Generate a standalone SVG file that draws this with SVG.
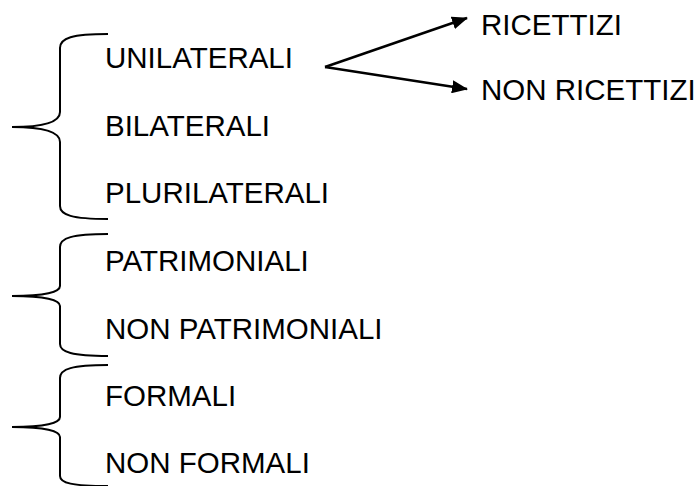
<svg xmlns="http://www.w3.org/2000/svg" width="697" height="486" viewBox="0 0 697 486">
<style>
text{font-family:"Liberation Sans",Arial,sans-serif;font-size:29.5px;fill:#000}
.br{fill:none;stroke:#000;stroke-width:2}
.ar{fill:none;stroke:#000;stroke-width:2.5}
</style>
<defs>
<marker id="ah" markerWidth="16" markerHeight="13" refX="15" refY="6.5" orient="auto" markerUnits="userSpaceOnUse">
<path d="M0,0 L16,6.5 L0,13 Z" fill="#000"/>
</marker>
</defs>
<g id="brace1"><path class="br" d="M108,34 C72,34 60,38 60,48 L60,112 C60,122 45,127 12,127 C45,127 60,132 60,142 L60,206 C60,215 72,219 108,219"/></g>
<g id="brace2"><path class="br" d="M108,234 C72,234 60,238 60,247 L60,286 C60,292 45,296 12,296 C45,296 60,300 60,306 L60,344 C60,352 72,356 108,356"/></g>
<g id="brace3"><path class="br" d="M108,365 C72,365 60,369 60,378 L60,417 C60,423 45,427 12,427 C45,427 60,431 60,437 L60,476 C60,483 72,486 108,486"/></g>
<g id="n-unilaterali"><text x="105" y="68">UNILATERALI</text></g>
<g id="n-bilaterali"><text x="105" y="136">BILATERALI</text></g>
<g id="n-plurilaterali"><text x="105" y="203">PLURILATERALI</text></g>
<g id="n-patrimoniali"><text x="105" y="271">PATRIMONIALI</text></g>
<g id="n-nonpatrimoniali"><text x="105" y="339">NON PATRIMONIALI</text></g>
<g id="n-formali"><text x="105" y="406">FORMALI</text></g>
<g id="n-nonformali"><text x="105" y="473">NON FORMALI</text></g>
<g id="n-ricettizi"><text x="481" y="35">RICETTIZI</text></g>
<g id="n-nonricettizi"><text x="481" y="100">NON RICETTIZI</text></g>
<g id="connectors">
<line class="ar" x1="325" y1="67" x2="467" y2="18" marker-end="url(#ah)"/>
<line class="ar" x1="325" y1="67" x2="467" y2="89" marker-end="url(#ah)"/>
</g>
</svg>
